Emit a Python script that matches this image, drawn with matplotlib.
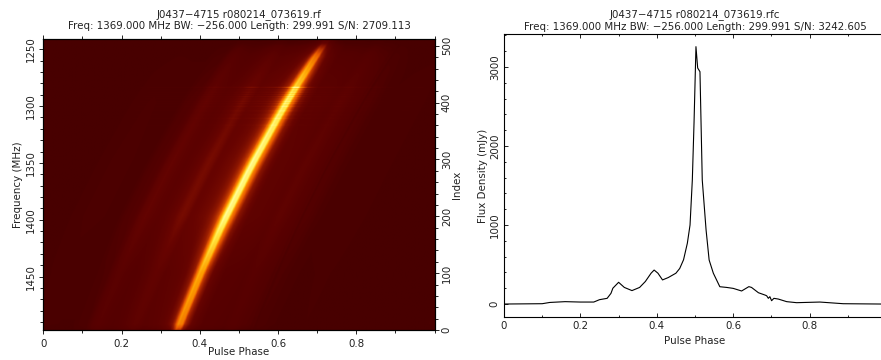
import numpy as np
import matplotlib
matplotlib.use('Agg')
import matplotlib.pyplot as plt
from matplotlib.colors import LinearSegmentedColormap
from matplotlib.ticker import MultipleLocator

# Integrated profile
phase = [0, 0.1, 0.12, 0.16, 0.2, 0.235, 0.25, 0.27, 0.28, 0.285, 0.3, 0.315, 0.335, 0.355,
         0.37, 0.385, 0.393, 0.403, 0.415, 0.43, 0.45, 0.46, 0.47, 0.48, 0.487, 0.493, 0.4975,
         0.5025, 0.507, 0.513, 0.519, 0.529, 0.537, 0.548, 0.565, 0.583, 0.6, 0.622, 0.641,
         0.648, 0.666, 0.683, 0.6875, 0.692, 0.696, 0.7005, 0.7065, 0.718, 0.74, 0.766, 0.827,
         0.888, 0.986, 1.0]
flux = [0, 4, 20, 30, 25, 25, 55, 72, 135, 200, 275, 210, 170, 210,
        285, 390, 430, 390, 305, 335, 390, 450, 560, 770, 1000, 1570, 2300,
        3257, 2987, 2940, 1570, 937, 557, 390, 219, 210, 198, 165, 220,
        210, 143, 114, 105, 72, 93, 42, 72, 63, 30, 17, 25,
        4, 0, 0]

# Where the main pulse sits in each channel
ridge_index = [0, 25, 50, 75, 100, 125, 150, 175, 200, 225, 250, 275, 300, 325, 350, 375,
               400, 425, 450, 475, 500, 512]
ridge_phase = [0.342, 0.356, 0.371, 0.386, 0.401, 0.417, 0.433, 0.449, 0.466, 0.484, 0.502,
               0.520, 0.539, 0.559, 0.579, 0.599, 0.620, 0.642, 0.665, 0.688, 0.712, 0.723]

# Brightness of the band
band_index = [0, 10, 50, 100, 150, 200, 300, 400, 450, 480, 495, 505, 512]
band_gain = [0.3, 0.5, 0.55, 0.6, 0.8, 1, 1, 0.9, 0.65, 0.45, 0.25, 0.08, 0.05]

# Channels with interference
rfi_rows = [360, 372, 378, 385, 393, 398, 402, 406, 410, 414, 418, 422, 426, 427]
rfi_gain = [1.1, 1.15, 1.1, 1.2, 1.2, 1.15, 1.25, 1.2, 1.3, 1.2, 1.3, 1.25, 1.5, 1.4]

xticks = [0, 0.2, 0.4, 0.6, 0.8]
xticklabels = ['0', '0.2', '0.4', '0.6', '0.8']

title_left = 'J0437\u22124715 r080214_073619.rf'
info_left = 'Freq: 1369.000 MHz BW: \u2212256.000 Length: 299.991 S/N: 2709.113'
title_right = 'J0437\u22124715 r080214_073619.rfc'
info_right = 'Freq: 1369.000 MHz BW: \u2212256.000 Length: 299.991 S/N: 3242.605'

# Build the phase/frequency image from the tables above
nchan = 512
nbin = 512
bins = (np.arange(nbin) + 0.5) / nbin
chans = np.arange(nchan)
centre = np.interp(chans, ridge_index, ridge_phase)
gain = np.interp(chans, band_index, band_gain)
gain[rfi_rows] *= rfi_gain
img = np.zeros((nchan, nbin))
for i in chans:
    img[i] = np.interp(bins - centre[i] + 0.505, phase, flux, period=1.0) * gain[i]
img = img / np.max(flux)

heat = LinearSegmentedColormap.from_list('heat', [
    (0.0, '#480000'), (0.02, '#540000'), (0.1, '#680400'), (0.2, '#981c00'), (0.35, '#e85800'),
    (0.55, '#ffa000'), (0.8, '#ffe840'), (1.0, '#ffffa0')])

W, H = 881, 360
fig = plt.figure(figsize=(W / 100, H / 100), dpi=100)
plt.rcParams['font.family'] = 'DejaVu Sans'
fs = 7.4
ink = '#222222'

# left panel
ax = fig.add_axes([43.3 / W, 1 - 330 / H, 391.3 / W, 291 / H])
ax.imshow(img, origin='lower', aspect='auto', cmap=heat, vmin=0, vmax=1,
          extent=[0, 1, 1497, 1241], interpolation='bilinear')
ax.set_xlim(0, 1)
ax.set_ylim(1497, 1241)
ax.set_xticks(xticks)
ax.set_xticklabels(xticklabels)
ax.xaxis.set_minor_locator(MultipleLocator(0.1))
ax.yaxis.set_major_locator(MultipleLocator(50))
ax.yaxis.set_minor_locator(MultipleLocator(10))
ax.tick_params(axis='x', which='both', top=True, direction='out', labelsize=fs, pad=3, colors=ink, width=0.7)
ax.tick_params(axis='y', which='both', direction='out', labelsize=fs, pad=2, colors=ink, width=0.7)
ax.tick_params(which='major', length=3.2)
ax.tick_params(which='minor', length=2)
plt.setp(ax.get_yticklabels(), rotation=90, va='center')
ax.set_xlabel('Pulse Phase', fontsize=fs, color=ink, labelpad=-1)
ax.set_ylabel('Frequency (MHz)', fontsize=fs, color=ink, labelpad=2)
ax.set_title(title_left + '\n' + info_left, fontsize=fs, color=ink, pad=7, linespacing=1.2)

ax2 = ax.twinx()
ax2.set_ylim(0, 512)
ax2.yaxis.set_major_locator(MultipleLocator(100))
ax2.yaxis.set_minor_locator(MultipleLocator(20))
ax2.tick_params(axis='y', which='both', direction='out', labelsize=fs, pad=2, colors=ink, width=0.7)
ax2.tick_params(which='major', length=3.2)
ax2.tick_params(which='minor', length=2)
plt.setp(ax2.get_yticklabels(), rotation=90, va='center')
ax2.set_ylabel('Index', fontsize=fs, color=ink, labelpad=0)

# right panel, runs off the edge of the picture like the original
ax3 = fig.add_axes([504 / W, 1 - 317.3 / H, 382 / W, 283.6 / H])
ax3.plot(phase, flux, color='black', lw=0.8)
ax3.set_xlim(0, 1)
ax3.set_ylim(-168, 3421)
ax3.set_xticks(xticks)
ax3.set_xticklabels(xticklabels)
ax3.xaxis.set_minor_locator(MultipleLocator(0.1))
ax3.yaxis.set_major_locator(MultipleLocator(1000))
ax3.yaxis.set_minor_locator(MultipleLocator(200))
ax3.tick_params(axis='both', which='both', direction='in', top=True, right=True, labelsize=fs, pad=3, colors=ink, width=0.7)
ax3.tick_params(which='major', length=2.8)
ax3.tick_params(which='minor', length=1.6)
plt.setp(ax3.get_yticklabels(), rotation=90, va='center')
ax3.set_xlabel('Pulse Phase', fontsize=fs, color=ink, labelpad=3)
ax3.set_ylabel('Flux Density (mJy)', fontsize=fs, color=ink, labelpad=1.5)
ax3.set_title(title_right + '\n' + info_right, fontsize=fs, color=ink, pad=3, linespacing=1.2)

fig.savefig('out.png', dpi=100)
